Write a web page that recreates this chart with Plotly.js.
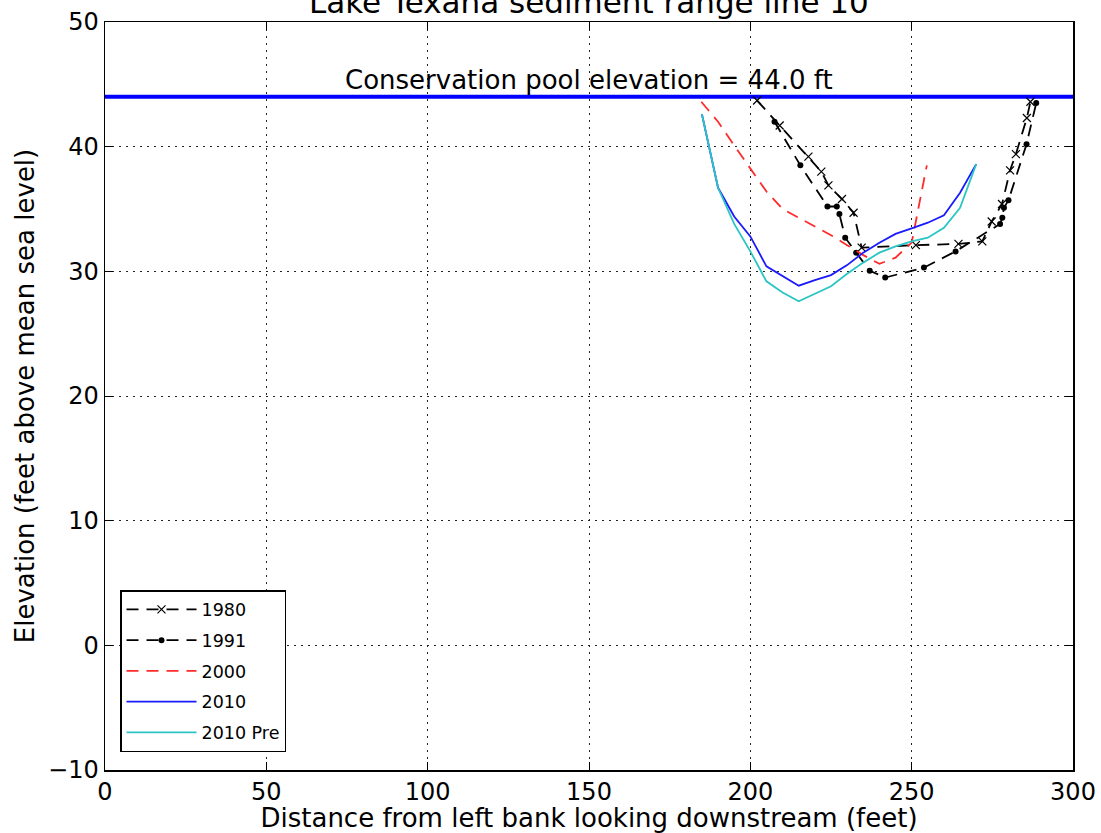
<!DOCTYPE html>
<html>
<head>
<meta charset="utf-8">
<script src="https://cdn.plot.ly/plotly-3.0.1.min.js"></script>
<style>html,body{margin:0;padding:0;background:#fff;}#chart{width:1101px;height:833px;}</style>
</head>
<body>
<div id="chart"></div>
<script>
// ---- data ----
const x1980 = [202.1, 209.1, 218.0, 222.0, 224.2, 228.4, 232.0, 234.5, 251.3, 264.5, 271.9, 274.8, 278.0, 280.5, 282.3, 285.7, 286.8];
const y1980 = [43.7, 41.7, 39.2, 38.0, 36.9, 35.8, 34.7, 31.9, 32.1, 32.2, 32.4, 34.0, 35.4, 38.1, 39.4, 42.3, 43.6];

const x1991 = [207.5, 215.5, 223.9, 226.8, 227.6, 229.4, 232.8, 237.0, 241.8, 253.8, 263.6, 277.4, 278.1, 278.6, 280.0, 285.6, 288.6];
const y1991 = [42.0, 38.5, 35.2, 35.2, 34.6, 32.7, 31.5, 30.05, 29.5, 30.3, 31.6, 33.8, 34.3, 35.1, 35.7, 40.2, 43.5];

const x2000 = [184.8, 190, 195, 200, 205, 210, 215, 220, 225, 230, 235, 240, 245, 250, 252, 254.7];
const y2000 = [43.6, 42.0, 40.1, 38.3, 36.4, 35.0, 34.3, 33.6, 32.9, 32.1, 31.3, 30.6, 31.1, 32.3, 35.0, 38.5];

const x2010 = [185, 190, 195, 200, 205, 210, 215, 220, 225, 230, 235, 240, 245, 250, 255, 260, 265, 270];
const y2010 = [42.6, 36.7, 34.4, 32.8, 30.4, 29.6, 28.85, 29.3, 29.7, 30.5, 31.5, 32.3, 33.0, 33.45, 33.9, 34.5, 36.3, 38.6];

const x2010pre = [185, 190, 195, 200, 205, 210, 215, 220, 225, 230, 235, 240, 245, 250, 255, 260, 265, 270];
const y2010pre = [42.6, 36.7, 33.8, 31.6, 29.2, 28.3, 27.6, 28.2, 28.8, 29.8, 30.7, 31.5, 32.0, 32.4, 32.7, 33.5, 35.1, 38.6];

const poolElevation = 44.0;
const xRange = [0, 300];
const yRange = [-10, 50];
const seriesNames = ['1980', '1991', '2000', '2010', '2010 Pre'];
const chartTitle = 'Lake Texana sediment range line 10';

const FONT = 'DejaVu Sans, sans-serif';
const dash = '12px,8px';

const traces = [
  {x: xRange, y: [poolElevation, poolElevation], mode: 'lines', showlegend: false,
   line: {color: '#0000ff', width: 4}, hoverinfo: 'skip'},
  {x: x1980, y: y1980, name: seriesNames[0], mode: 'lines+markers', legendgroup: 'a',
   line: {color: '#000', width: 1.8, dash: dash},
   marker: {symbol: 'x-thin', size: 8, color: '#000', line: {color: '#000', width: 1.2}}},
  {x: x1991, y: y1991, name: seriesNames[1], mode: 'lines+markers', legendgroup: 'b',
   line: {color: '#000', width: 1.8, dash: dash},
   marker: {symbol: 'circle', size: 6, color: '#000'}},
  {x: x2000, y: y2000, name: seriesNames[2], mode: 'lines', legendgroup: 'c',
   line: {color: '#ff2a2a', width: 1.8, dash: dash}},
  {x: x2010, y: y2010, name: seriesNames[3], mode: 'lines', legendgroup: 'd',
   line: {color: '#1a1aff', width: 1.8}},
  {x: x2010pre, y: y2010pre, name: seriesNames[4], mode: 'lines', legendgroup: 'e',
   line: {color: '#2cc4c4', width: 1.8}}
];

const axisCommon = {
  showline: true, linecolor: '#000', linewidth: 1.5, mirror: 'ticks',
  ticks: 'inside', ticklen: 8, tickwidth: 1, tickcolor: '#000',
  showgrid: true, gridcolor: '#222', griddash: '2px,5px', gridwidth: 1,
  zeroline: false, tickfont: {family: FONT, size: 24, color: '#000'}
};

const layout = {
  width: 1101, height: 833,
  margin: {l: 105, r: 28, t: 22, b: 63},
  paper_bgcolor: '#fff', plot_bgcolor: '#fff',
  font: {family: FONT, color: '#000'},
  xaxis: Object.assign({}, axisCommon, {range: xRange, dtick: 50, tick0: 0,
          title: {text: 'Distance from left bank looking downstream (feet)', font: {family: FONT, size: 26, color: '#000'}, standoff: 3}}),
  yaxis: Object.assign({}, axisCommon, {range: yRange, dtick: 10, tick0: -10,
          title: {text: 'Elevation (feet above mean sea level)', font: {family: FONT, size: 26, color: '#000'}, standoff: 6}}),
  legend: {x: 0.0155, y: 0.2406, xanchor: 'left', yanchor: 'top',
           bgcolor: '#fff', bordercolor: '#000', borderwidth: 1.5,
           font: {family: FONT, size: 17.5, color: '#000'},
           itemwidth: 70,
           traceorder: 'grouped', tracegroupgap: 5},
  annotations: [
    {x: 0.5, y: 1, xref: 'paper', yref: 'paper', xanchor: 'center', yanchor: 'bottom',
     text: chartTitle, showarrow: false, yshift: 0, font: {family: FONT, size: 31, color: '#000'}},
    {x: 150, y: poolElevation, xref: 'x', yref: 'y', yanchor: 'bottom',
     text: 'Conservation pool elevation = ' + poolElevation.toFixed(1) + ' ft',
     showarrow: false, yshift: 0, font: {family: FONT, size: 26, color: '#000'}}],
  showlegend: true
};

Plotly.newPlot('chart', traces, layout, {displayModeBar: false, staticPlot: true});
</script>
</body>
</html>
